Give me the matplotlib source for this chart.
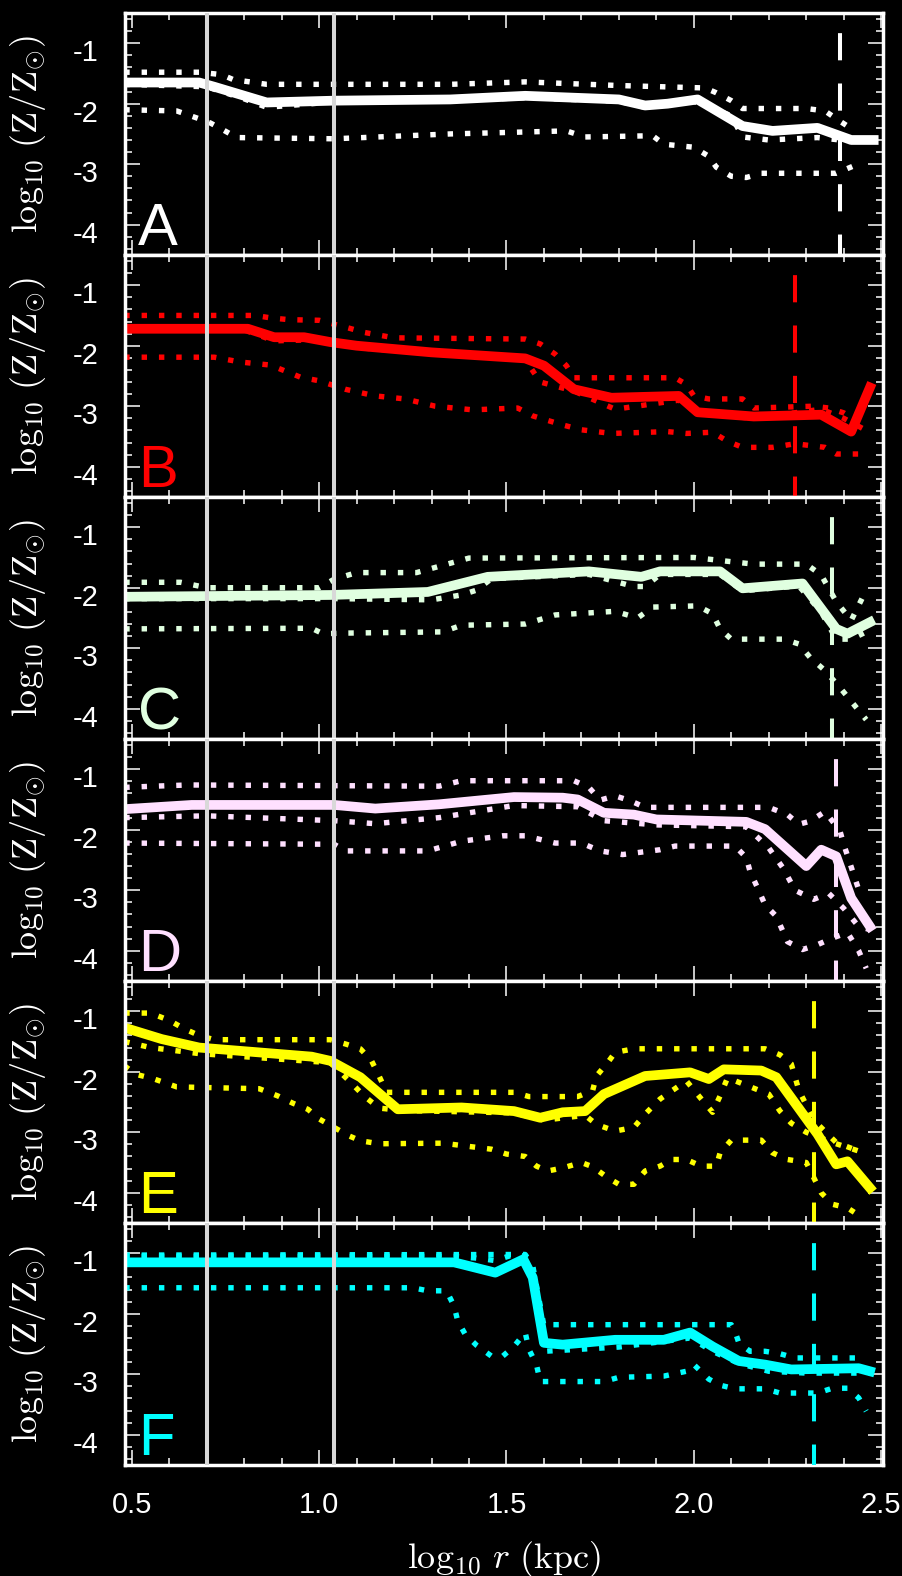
import matplotlib
matplotlib.use("Agg")
import matplotlib.pyplot as plt
from matplotlib.ticker import MultipleLocator
from matplotlib.transforms import ScaledTranslation

plt.rcParams["font.family"] = ["Liberation Sans", "DejaVu Sans"]
plt.rcParams["mathtext.fontset"] = "cm"
plt.rcParams["axes.unicode_minus"] = False

panels = ["A", "B", "C", "D", "E", "F"]
colors = ["#ffffff", "#ff0000", "#e0ffe0", "#ffe0ff", "#ffff00", "#00ffff"]
r_vir = [2.39, 2.27, 2.37, 2.38, 2.32, 2.32]  # dashed line per panel
r_marks = [0.70, 1.04]  # grey vertical lines

# panel A
A_mean_x = [0.48, 0.68, 0.72, 0.86, 1.04, 1.35, 1.55, 1.80, 1.87, 1.93, 2.01, 2.13, 2.21, 2.33, 2.42, 2.48]
A_mean_y = [-1.65, -1.65, -1.72, -1.98, -1.95, -1.93, -1.87, -1.93, -2.03, -2.00, -1.93, -2.37, -2.45, -2.40, -2.60, -2.60]
A_up_x = [0.48, 0.68, 0.74, 0.77, 0.86, 1.35, 1.55, 1.80, 2.03, 2.06, 2.10, 2.13, 2.30, 2.35, 2.39, 2.43]
A_up_y = [-1.48, -1.48, -1.52, -1.60, -1.68, -1.68, -1.64, -1.70, -1.74, -1.82, -1.95, -2.08, -2.08, -2.12, -2.29, -2.45]
A_lo_x = [0.48, 0.62, 0.68, 0.71, 0.74, 0.78, 1.04, 1.35, 1.66, 1.71, 1.89, 1.92, 2.00, 2.04, 2.06, 2.10, 2.14, 2.18, 2.38, 2.43]
A_lo_y = [-2.10, -2.12, -2.25, -2.32, -2.42, -2.56, -2.58, -2.50, -2.45, -2.55, -2.53, -2.67, -2.72, -2.87, -3.05, -3.20, -3.22, -3.15, -3.15, -3.02]
A_med_x = [0.48, 0.70, 0.80, 0.86, 1.04, 1.35, 1.55, 1.80, 1.87, 2.00, 2.10, 2.13, 2.20, 2.33, 2.42, 2.48]
A_med_y = [-1.68, -1.72, -1.92, -2.06, -1.97, -1.95, -1.90, -1.96, -2.06, -1.96, -2.20, -2.55, -2.60, -2.56, -2.62, -2.62]

# panel B
B_mean_x = [0.48, 0.81, 0.88, 0.96, 1.03, 1.10, 1.30, 1.55, 1.60, 1.68, 1.78, 1.96, 2.01, 2.16, 2.34, 2.42, 2.47]
B_mean_y = [-1.72, -1.72, -1.86, -1.86, -1.94, -2.00, -2.11, -2.21, -2.33, -2.72, -2.86, -2.83, -3.10, -3.17, -3.14, -3.42, -2.69]
B_up_x = [0.48, 0.83, 0.87, 0.92, 1.00, 1.08, 1.12, 1.20, 1.55, 1.59, 1.63, 1.66, 1.68, 1.95, 1.98, 2.00, 2.04, 2.13, 2.16, 2.32, 2.36, 2.40, 2.45]
B_up_y = [-1.50, -1.50, -1.54, -1.57, -1.58, -1.71, -1.78, -1.87, -1.89, -1.97, -2.14, -2.33, -2.53, -2.53, -2.64, -2.83, -2.88, -2.88, -3.03, -3.00, -3.03, -3.11, -3.30]
B_lo_x = [0.48, 0.72, 0.79, 0.87, 0.91, 0.95, 1.00, 1.03, 1.07, 1.15, 1.23, 1.31, 1.41, 1.53, 1.57, 1.65, 1.70, 1.78, 1.93, 1.98, 2.05, 2.09, 2.13, 2.21, 2.27, 2.35, 2.38, 2.44]
B_lo_y = [-2.19, -2.19, -2.27, -2.32, -2.42, -2.52, -2.58, -2.64, -2.72, -2.83, -2.88, -3.00, -3.06, -3.03, -3.16, -3.31, -3.39, -3.45, -3.42, -3.45, -3.43, -3.58, -3.68, -3.68, -3.62, -3.68, -3.79, -3.79]
B_med_x = [0.48, 0.80, 0.88, 1.00, 1.10, 1.30, 1.55, 1.59, 1.62, 1.68, 1.79, 1.96, 2.01, 2.16, 2.34, 2.40, 2.46]
B_med_y = [-1.74, -1.74, -1.92, -1.90, -2.03, -2.13, -2.23, -2.60, -2.65, -2.75, -3.05, -2.90, -3.12, -3.20, -3.05, -3.20, -3.40]

# panel C
C_mean_x = [0.48, 1.03, 1.29, 1.45, 1.72, 1.86, 1.91, 2.07, 2.13, 2.29, 2.38, 2.41, 2.47]
C_mean_y = [-2.15, -2.12, -2.07, -1.82, -1.73, -1.82, -1.73, -1.73, -2.01, -1.93, -2.68, -2.76, -2.57]
C_up_x = [0.48, 0.63, 0.70, 1.00, 1.04, 1.10, 1.26, 1.40, 2.00, 2.10, 2.16, 2.30, 2.34, 2.38, 2.42, 2.46]
C_up_y = [-1.91, -1.91, -2.00, -2.00, -1.86, -1.75, -1.75, -1.51, -1.50, -1.57, -1.61, -1.61, -1.79, -2.23, -2.54, -2.04]
C_lo_x = [0.48, 0.98, 1.01, 1.07, 1.33, 1.38, 1.55, 1.63, 1.79, 1.85, 1.89, 2.01, 2.05, 2.07, 2.10, 2.24, 2.28, 2.31, 2.35, 2.39, 2.46]
C_lo_y = [-2.68, -2.67, -2.76, -2.75, -2.73, -2.62, -2.60, -2.45, -2.39, -2.50, -2.32, -2.30, -2.43, -2.68, -2.85, -2.85, -2.93, -3.15, -3.37, -3.65, -4.18]
C_med_x = [0.48, 1.04, 1.30, 1.38, 1.42, 1.46, 1.72, 1.84, 1.87, 1.91, 2.07, 2.13, 2.28, 2.34, 2.38, 2.42, 2.47]
C_med_y = [-2.18, -2.18, -2.20, -2.12, -2.04, -1.85, -1.78, -1.98, -1.98, -1.78, -1.78, -2.05, -1.97, -2.40, -2.85, -2.85, -2.70]

# panel D
D_mean_x = [0.48, 0.66, 1.04, 1.15, 1.32, 1.52, 1.65, 1.69, 1.76, 1.84, 1.90, 2.14, 2.19, 2.30, 2.34, 2.38, 2.42, 2.47]
D_mean_y = [-1.66, -1.59, -1.59, -1.65, -1.58, -1.46, -1.47, -1.50, -1.72, -1.75, -1.83, -1.87, -1.99, -2.60, -2.33, -2.44, -3.13, -3.60]
D_up_x = [0.48, 0.56, 0.65, 1.32, 1.38, 1.68, 1.72, 1.75, 1.79, 1.83, 1.87, 2.20, 2.25, 2.28, 2.31, 2.35, 2.39, 2.40, 2.44]
D_up_y = [-1.30, -1.28, -1.26, -1.28, -1.19, -1.19, -1.30, -1.51, -1.44, -1.52, -1.63, -1.63, -1.75, -1.91, -1.86, -1.70, -2.02, -2.24, -2.99]
D_lo_x = [0.48, 1.04, 1.07, 1.29, 1.38, 1.49, 1.55, 1.63, 1.70, 1.75, 1.81, 1.91, 1.95, 2.11, 2.14, 2.15, 2.17, 2.19, 2.22, 2.25, 2.29, 2.33, 2.37, 2.41, 2.44, 2.46]
D_lo_y = [-2.22, -2.24, -2.35, -2.35, -2.19, -2.10, -2.10, -2.22, -2.22, -2.35, -2.41, -2.33, -2.27, -2.27, -2.46, -2.69, -2.96, -3.24, -3.43, -3.85, -3.98, -3.90, -3.79, -3.70, -4.00, -4.29]
D_med_x = [0.48, 0.70, 1.04, 1.15, 1.32, 1.52, 1.69, 1.76, 1.90, 2.14, 2.20, 2.24, 2.27, 2.32, 2.36, 2.40, 2.44, 2.47]
D_med_y = [-1.80, -1.77, -1.85, -1.90, -1.80, -1.60, -1.62, -1.85, -1.92, -1.95, -2.30, -2.65, -3.00, -3.15, -3.05, -3.30, -3.60, -3.65]

# panel E
E_mean_x = [0.48, 0.58, 0.68, 0.84, 0.98, 1.03, 1.11, 1.21, 1.38, 1.52, 1.59, 1.65, 1.71, 1.76, 1.87, 1.99, 2.04, 2.08, 2.18, 2.22, 2.33, 2.38, 2.41, 2.47]
E_mean_y = [-1.27, -1.46, -1.60, -1.68, -1.75, -1.82, -2.09, -2.62, -2.59, -2.65, -2.76, -2.67, -2.65, -2.37, -2.07, -2.01, -2.12, -1.96, -1.98, -2.09, -3.03, -3.53, -3.48, -3.92]
E_up_x = [0.48, 0.55, 0.60, 0.64, 0.68, 0.72, 1.03, 1.07, 1.11, 1.14, 1.16, 1.18, 1.22, 1.52, 1.56, 1.69, 1.73, 1.74, 1.77, 1.79, 1.84, 2.19, 2.23, 2.26, 2.28, 2.32, 2.38, 2.44]
E_up_y = [-1.03, -1.03, -1.15, -1.29, -1.40, -1.47, -1.47, -1.54, -1.62, -1.82, -2.07, -2.34, -2.34, -2.34, -2.41, -2.41, -2.31, -2.07, -1.85, -1.68, -1.62, -1.62, -1.72, -1.87, -2.30, -2.80, -3.17, -3.31]
E_lo_x = [0.48, 0.51, 0.56, 0.62, 0.84, 0.89, 0.93, 0.97, 1.00, 1.04, 1.08, 1.11, 1.16, 1.33, 1.46, 1.50, 1.55, 1.58, 1.61, 1.65, 1.70, 1.73, 1.77, 1.80, 1.84, 1.87, 1.91, 1.94, 1.98, 2.02, 2.06, 2.07, 2.10, 2.18, 2.21, 2.25, 2.30, 2.32, 2.34, 2.37, 2.41, 2.44]
E_lo_y = [-1.90, -2.04, -2.12, -2.25, -2.28, -2.40, -2.52, -2.62, -2.78, -2.92, -3.06, -3.14, -3.19, -3.18, -3.28, -3.36, -3.40, -3.56, -3.64, -3.59, -3.50, -3.57, -3.75, -3.86, -3.86, -3.64, -3.56, -3.45, -3.45, -3.56, -3.56, -3.34, -3.13, -3.13, -3.34, -3.45, -3.50, -3.75, -4.00, -4.19, -4.25, -4.37]
E_med_x = [0.48, 0.55, 0.68, 1.03, 1.08, 1.12, 1.16, 1.22, 1.52, 1.60, 1.71, 1.74, 1.79, 1.84, 1.87, 1.91, 1.98, 2.02, 2.05, 2.07, 2.09, 2.20, 2.23, 2.26, 2.30, 2.37, 2.44]
E_med_y = [-1.50, -1.60, -1.70, -1.85, -2.15, -2.40, -2.60, -2.64, -2.68, -2.80, -2.72, -2.87, -2.98, -2.92, -2.70, -2.45, -2.15, -2.45, -2.67, -2.40, -2.10, -2.37, -2.65, -2.85, -3.00, -3.17, -3.31]

# panel F
F_mean_x = [0.48, 1.36, 1.38, 1.47, 1.545, 1.57, 1.60, 1.65, 1.79, 1.92, 1.99, 2.05, 2.12, 2.19, 2.26, 2.44, 2.47]
F_mean_y = [-1.15, -1.15, -1.18, -1.32, -1.10, -1.40, -2.48, -2.51, -2.43, -2.43, -2.31, -2.54, -2.78, -2.84, -2.92, -2.90, -2.95]
F_up_x = [0.48, 1.55, 1.57, 1.60, 1.61, 2.10, 2.11, 2.12, 2.15, 2.19, 2.23, 2.27, 2.45]
F_up_y = [-1.03, -1.02, -1.20, -2.20, -2.18, -2.18, -2.29, -2.48, -2.62, -2.62, -2.66, -2.73, -2.73]
F_lo_x = [0.48, 1.25, 1.29, 1.34, 1.36, 1.37, 1.39, 1.42, 1.46, 1.49, 1.52, 1.55, 1.56, 1.58, 1.59, 1.76, 1.80, 1.92, 1.98, 2.00, 2.04, 2.07, 2.11, 2.19, 2.23, 2.33, 2.37, 2.41, 2.44, 2.46]
F_lo_y = [-1.57, -1.57, -1.62, -1.62, -1.87, -2.12, -2.34, -2.52, -2.70, -2.70, -2.54, -2.31, -2.59, -2.84, -3.12, -3.12, -3.05, -3.03, -2.95, -2.84, -3.08, -3.18, -3.24, -3.24, -3.31, -3.31, -3.23, -3.23, -3.39, -3.61]
F_med_x = [0.48, 1.36, 1.42, 1.47, 1.52, 1.55, 1.57, 1.60, 1.80, 1.99, 2.05, 2.12, 2.20, 2.30, 2.47]
F_med_y = [-1.05, -1.05, -1.08, -1.12, -1.02, -1.05, -1.40, -2.62, -2.55, -2.40, -2.62, -2.82, -2.95, -2.98, -2.98]

means = [(A_mean_x, A_mean_y), (B_mean_x, B_mean_y), (C_mean_x, C_mean_y),
         (D_mean_x, D_mean_y), (E_mean_x, E_mean_y), (F_mean_x, F_mean_y)]
uppers = [(A_up_x, A_up_y), (B_up_x, B_up_y), (C_up_x, C_up_y),
          (D_up_x, D_up_y), (E_up_x, E_up_y), (F_up_x, F_up_y)]
lowers = [(A_lo_x, A_lo_y), (B_lo_x, B_lo_y), (C_lo_x, C_lo_y),
          (D_lo_x, D_lo_y), (E_lo_x, E_lo_y), (F_lo_x, F_lo_y)]
medians = [(A_med_x, A_med_y), (B_med_x, B_med_y), (C_med_x, C_med_y),
           (D_med_x, D_med_y), (E_med_x, E_med_y), (F_med_x, F_med_y)]

xlim = (0.482, 2.505)
ylim = (-4.5, -0.5)

fig, axes = plt.subplots(6, 1, figsize=(9.02, 15.76), dpi=100, sharex=True)
fig.patch.set_facecolor("black")
fig.subplots_adjust(left=0.1386, right=0.979, top=0.9918, bottom=0.0704, hspace=0)

dotted = (0, (1, 2.2))
for i, ax in enumerate(axes):
    c = colors[i]
    ax.set_facecolor("black")
    for xs, ys in (uppers[i], lowers[i], medians[i]):
        ax.plot(xs, ys, color=c, lw=3.9, ls=dotted, dash_capstyle="butt")
    ax.plot(*means[i], color=c, lw=7)
    for xm in r_marks:
        ax.axvline(xm, color="#d8d8d8", lw=2.9, zorder=5)
    ax.plot([r_vir[i], r_vir[i]], [ylim[1], ylim[0]], color=c, lw=2.9,
            ls=(7.5, (6.75, 5.75)), dash_capstyle="butt", zorder=4)
    ax.text(0.017, 0.04, panels[i], transform=ax.transAxes, color=c,
            fontsize=43, ha="left", va="baseline")

    ax.set_xlim(*xlim)
    ax.set_ylim(*ylim)
    ax.xaxis.set_major_locator(MultipleLocator(0.5))
    ax.xaxis.set_minor_locator(MultipleLocator(0.1))
    ax.yaxis.set_major_locator(MultipleLocator(1))
    ax.yaxis.set_minor_locator(MultipleLocator(0.2))
    ax.tick_params(which="both", direction="in", top=True, right=True,
                   colors="white", width=1.1, labelsize=21)
    ax.tick_params(which="major", length=11)
    ax.tick_params(which="minor", length=5)
    ax.tick_params(axis="y", pad=19)
    ax.tick_params(axis="x", pad=19)
    ax.set_yticks([-1, -2, -3, -4])
    ax.set_yticklabels(["-1", "-2", "-3", "-4"])
    for sp in ax.spines.values():
        sp.set_color("white")
        sp.set_linewidth(2.5)
    ax.set_ylabel(r"$\log_{10}\,(\mathrm{Z/Z}_{\odot})$", color="white", fontsize=26)
    ax.yaxis.set_label_coords(-0.102, 0.5)
    shift = ScaledTranslation(0, -7 / 100, fig.dpi_scale_trans)
    for lab in ax.get_yticklabels():
        lab.set_transform(lab.get_transform() + shift)

axes[-1].set_xticks([0.5, 1.0, 1.5, 2.0, 2.5])
axes[-1].set_xticklabels(["0.5", "1.0", "1.5", "2.0", "2.5"])
axes[-1].set_xlabel(r"$\log_{10}\, r\ (\mathrm{kpc})$", color="white", fontsize=26, labelpad=14)

fig.savefig("out.png", dpi=100, facecolor="black")
